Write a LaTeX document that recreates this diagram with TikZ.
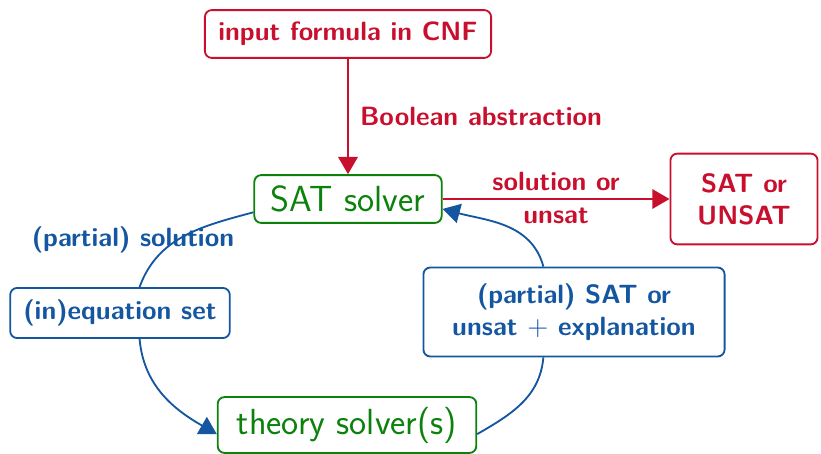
\documentclass[tikz,border=0pt]{standalone}
\usepackage{amsmath}
\usepackage{amssymb}
\usetikzlibrary{arrows.meta}
\definecolor{smtred}{RGB}{200,16,46}
\definecolor{smtblue}{RGB}{20,86,160}
\definecolor{smtgreen}{RGB}{12,130,12}
\tikzset{
  box/.style={draw,rounded corners=3pt,line width=0.8pt,align=center,
    inner sep=0pt,font=\sffamily\bfseries\fontsize{11.5}{14}\selectfont},
  redbox/.style={box,draw=smtred,text=smtred},
  bluebox/.style={box,draw=smtblue,text=smtblue},
  solverbox/.style={box,draw=smtgreen,text=smtgreen,
    font=\sffamily\fontsize{15.8}{19}\selectfont},
  redlabel/.style={text=smtred,font=\sffamily\bfseries\fontsize{11.5}{14}\selectfont},
  bluelabel/.style={text=smtblue,font=\sffamily\bfseries\fontsize{11.5}{14}\selectfont},
  redflow/.style={draw=smtred,line width=0.8pt},
  blueflow/.style={draw=smtblue,line width=0.8pt}
}

\begin{document}
\begin{tikzpicture}[x=0.435pt,y=-0.435pt,
  >={Triangle[length=7.5pt,width=8.5pt]}]
\useasboundingbox (0,0) rectangle (821,454);
% boxes
\node[redbox,minimum width=124.5pt,minimum height=20.8pt] (input) at (348,34) {input formula in CNF};
\node[solverbox,minimum width=81.5pt,minimum height=20.8pt] (sat) at (348,199) {SAT solver};
\node[redbox,minimum width=64pt,minimum height=39.5pt] (result) at (744,199) {SAT or\\ UNSAT};
\node[bluebox,minimum width=95.5pt,minimum height=21.8pt] (ineq) at (120,313) {(in)equation set};
\node[solverbox,minimum width=112.5pt,minimum height=24.3pt] (theory) at (347,425) {theory solver(s)};
\node[bluebox,minimum width=131pt,minimum height=38.7pt] (answer) at (574,312) {(partial) SAT or\\ unsat $+$ explanation};
% labels
\node[bluelabel] (partsol) at (133,240) {(partial) solution};
% red flow
\draw[redflow,->] (input) -- node[redlabel,right=1.5pt] (boolabs) {Boolean abstraction} (sat);
\draw[redflow,->] (sat) -- node[redlabel,above] (solor) {solution or}
  node[redlabel,below] (unsat) {unsat} (result);
% blue loop
\draw[blueflow] (sat.188) to[out=195,in=70] (ineq.53);
\draw[blueflow,->] (ineq.-53) to[out=-85,in=150] (theory.184);
\draw[blueflow] (theory.356) to[out=30,in=-95] (answer.236);
\draw[blueflow,->] (answer.124) to[out=105,in=-15] (sat.-6);
\end{tikzpicture}
\end{document}
